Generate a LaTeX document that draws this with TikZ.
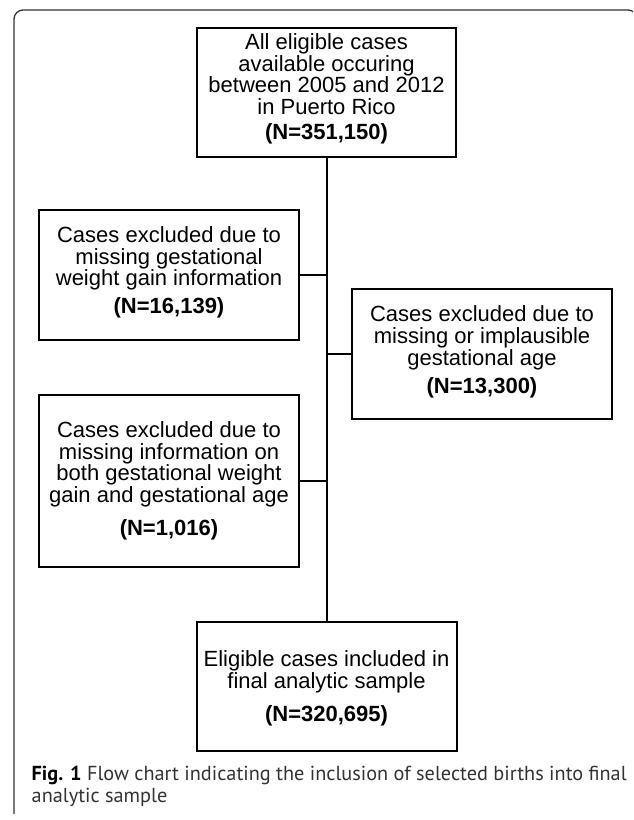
\documentclass[tikz,border=0pt]{standalone}
\usepackage{fontspec}
\setmainfont{Liberation Sans}
\newfontfamily\capfont{PT Sans}
\usetikzlibrary{calc}
\newlength\capwidth
\AtBeginDocument{%
\settowidth\capwidth{\capfont\fontsize{10}{12}\selectfont\textbf{Fig. 1} Flow chart indicating the inclusion of selected births into final}%
\pgfmathsetmacro\capsize{10*595/\capwidth}%
\global\let\capsize\capsize}
\begin{document}
\begin{tikzpicture}[x=1pt,y=-1pt,
  stagebox/.style={draw=black, line width=2pt, minimum width=260pt, minimum height=130pt, inner sep=0pt},
  boxtext/.style={align=center, inner sep=0pt, anchor=north, font=\fontsize{22}{21.8}\selectfont},
  link/.style={draw=black, line width=2pt},
  frameline/.style={draw=black!80, line width=1.3pt, rounded corners=9pt},
  captext/.style={anchor=base west, inner sep=0pt, text=black!80}]
\useasboundingbox (0,0) rectangle (633,820);
\begin{scope}
\clip (0,0) rectangle (633,820);
\draw[frameline] (14,814) -- (14,10) -- (637,10) -- (637,840);
\end{scope}
% boxes
\node[stagebox, minimum width=259pt, minimum height=129pt] (top) at (326.5,92.5) {};
\node[stagebox] (exa) at (169,275) {};
\node[stagebox] (exb) at (482,354) {};
\node[stagebox, minimum height=172pt] (exc) at (169,480.5) {};
\node[stagebox, minimum height=129pt] (fin) at (326.5,686.5) {};
% texts
\node[boxtext] (toptext) at (326.5,33.25) {All eligible cases\\available occuring\\between 2005 and 2012\\in Puerto Rico\\[3pt]\textbf{(N=351,150)}};
\node[boxtext] (exatext) at (169,226.25) {Cases excluded due to\\missing gestational\\weight gain information\\[6pt]\textbf{(N=16,139)}};
\node[boxtext] (exbtext) at (482,305.5) {Cases excluded due to\\missing or implausible\\gestational age\\[6pt]\textbf{(N=13,300)}};
\node[boxtext] (exctext) at (169,421.25) {Cases excluded due to\\missing information on\\both gestational weight\\gain and gestational age\\[11pt]\textbf{(N=1,016)}};
\node[boxtext] (fintext) at (326.5,650.25) {Eligible cases included in\\final analytic sample\\[11pt]\textbf{(N=320,695)}};
% connectors
\draw[link] (top.south) -- (fin.north);
\draw[link] (exa.east) -- (exa.east -| top.south);
\draw[link] (exb.west) -- (exb.west -| top.south);
\draw[link] (exc.east) -- (exc.east -| top.south);
% caption
\node[captext] (capa) at (31.5,780) {\capfont\fontsize{\capsize}{\capsize}\selectfont\textbf{\color{black}Fig. 1} Flow chart indicating the inclusion of selected births into final};
\node[captext] (capb) at (31.5,802) {\capfont\fontsize{\capsize}{\capsize}\selectfont analytic sample};
\end{tikzpicture}
\end{document}
